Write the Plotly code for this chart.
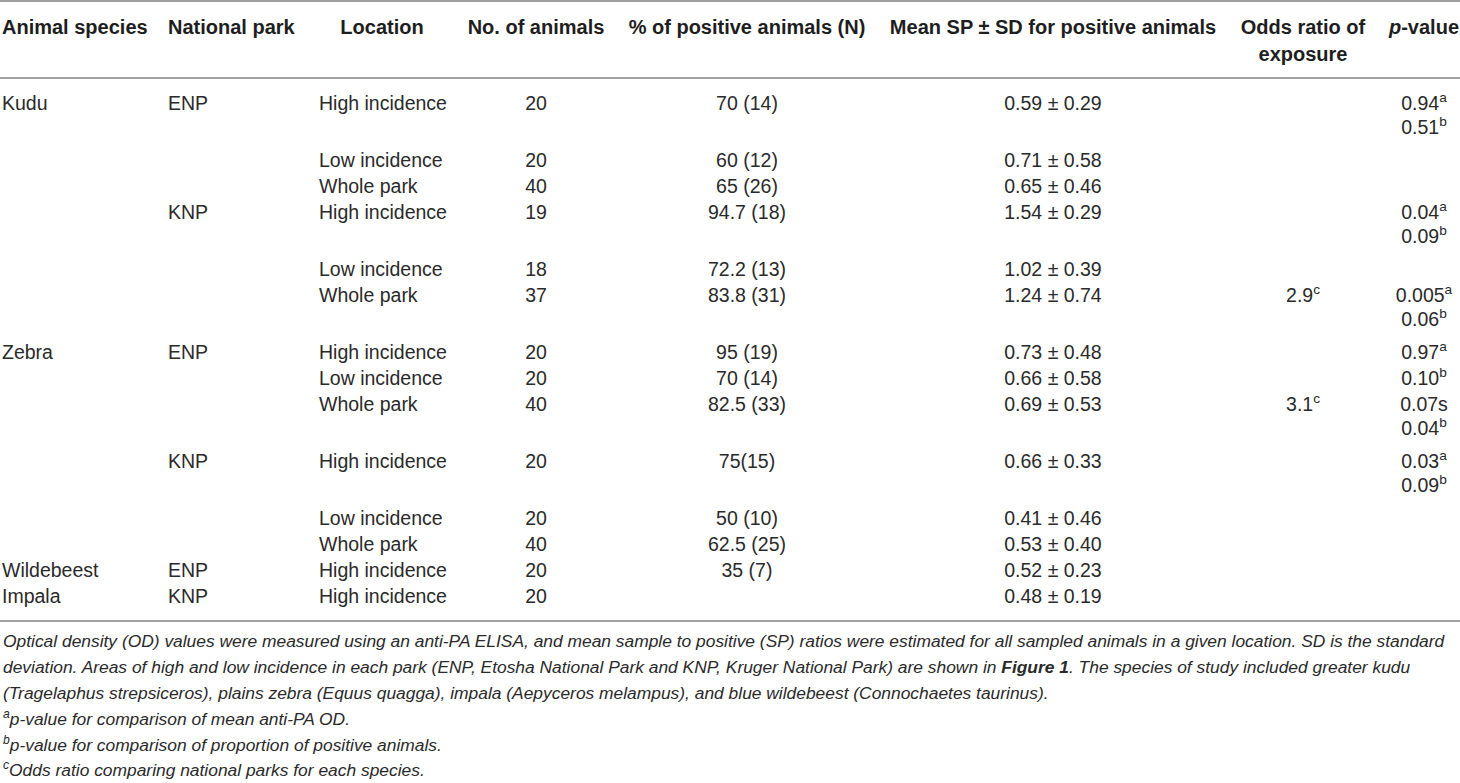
import plotly.graph_objects as go

# Table data (one entry per table row)
species = ["Kudu", "", "", "", "", "", "Zebra", "", "", "", "", "", "Wildebeest", "Impala"]
parks = ["ENP", "", "", "KNP", "", "", "ENP", "", "", "KNP", "", "", "ENP", "KNP"]
locations = ["High incidence", "Low incidence", "Whole park",
             "High incidence", "Low incidence", "Whole park",
             "High incidence", "Low incidence", "Whole park",
             "High incidence", "Low incidence", "Whole park",
             "High incidence", "High incidence"]
n_animals = [20, 20, 40, 19, 18, 37, 20, 20, 40, 20, 20, 40, 20, 20]
pct_positive = ["70 (14)", "60 (12)", "65 (26)", "94.7 (18)", "72.2 (13)", "83.8 (31)",
                "95 (19)", "70 (14)", "82.5 (33)", "75(15)", "50 (10)", "62.5 (25)",
                "35 (7)", ""]
mean_sp = [0.59, 0.71, 0.65, 1.54, 1.02, 1.24, 0.73, 0.66, 0.69, 0.66, 0.41, 0.53, 0.52, 0.48]
sd_sp = [0.29, 0.58, 0.46, 0.29, 0.39, 0.74, 0.48, 0.58, 0.53, 0.33, 0.46, 0.40, 0.23, 0.19]
odds_ratio = ["", "", "", "", "", "2.9<sup>c</sup>", "", "", "3.1<sup>c</sup>", "", "", "", "", ""]
p_values = [
    ["0.94<sup>a</sup>", "0.51<sup>b</sup>"], [], [],
    ["0.04<sup>a</sup>", "0.09<sup>b</sup>"], [], ["0.005<sup>a</sup>", "0.06<sup>b</sup>"],
    ["0.97<sup>a</sup>"], ["0.10<sup>b</sup>"], ["0.07s", "0.04<sup>b</sup>"],
    ["0.03<sup>a</sup>", "0.09<sup>b</sup>"], [], [], [], [],
]

headers = ["Animal species", "National park", "Location", "No. of animals",
           "% of positive animals (N)", "Mean SP \u00b1 SD for positive animals",
           "Odds ratio of", "<i>p</i>-value"]

caption = [
    "Optical density (OD) values were measured using an anti-PA ELISA, and mean sample to positive (SP) ratios were estimated for all sampled animals in a given location. SD is the standard",
    "deviation. Areas of high and low incidence in each park (ENP, Etosha National Park and KNP, Kruger National Park) are shown in <b>Figure 1</b>. The species of study included greater kudu",
    "(Tragelaphus strepsiceros), plains zebra (Equus quagga), impala (Aepyceros melampus), and blue wildebeest (Connochaetes taurinus).",
    "<sup>a</sup>p-value for comparison of mean anti-PA OD.",
    "<sup>b</sup>p-value for comparison of proportion of positive animals.",
    "<sup>c</sup>Odds ratio comparing national parks for each species.",
]

# layout (pixels)
W, H = 1460, 783
FONT = "Liberation Sans, Arial, sans-serif"
TXT = "#2a2a2a"
BODY = 19.5
# column anchor x and alignment
col_x = [2, 168, 319, 536, 747, 1053, 1303, 1424]
col_pos = ["middle right", "middle right", "middle right", "middle center",
           "middle center", "middle center", "middle center", "middle center"]
header_x = [2, 168, 382, 536, 747, 1053, 1303, 1424]
header_pos = ["middle right", "middle right", "middle center", "middle center",
              "middle center", "middle center", "middle center", "middle center"]

# row positions from number of text lines in each row
row_y = []
y = 105
for pv in p_values:
    row_y.append(y)
    y += 57 if len(pv) > 1 else 26

fig = go.Figure()


def add_col(xs, ys, texts, pos, bold=False):
    keep = [(a, b, t) for a, b, t in zip(xs, ys, texts) if t]
    fig.add_trace(go.Scatter(
        x=[k[0] for k in keep], y=[k[1] for k in keep], text=[k[2] for k in keep],
        mode="text", textposition=pos,
        textfont=dict(family=FONT, size=20 if bold else BODY,
                      color="#1e1e1e" if bold else TXT,
                      weight="bold" if bold else "normal"),
        hoverinfo="skip", showlegend=False, cliponaxis=False,
    ))


# header
for i, h in enumerate(headers):
    add_col([header_x[i]], [29], [h], header_pos[i], bold=True)
add_col([header_x[6]], [56], ["exposure"], header_pos[6], bold=True)

# body columns
mean_txt = [f"{m:.2f} \u00b1 {s:.2f}" for m, s in zip(mean_sp, sd_sp)]
body_cols = [species, parks, locations, [str(n) for n in n_animals],
             pct_positive, mean_txt, odds_ratio]
for i, col in enumerate(body_cols):
    add_col([col_x[i]] * len(col), row_y, col, col_pos[i])

# p-values, second line below the first
pv_y, pv_t = [], []
for ry, pv in zip(row_y, p_values):
    for k, t in enumerate(pv):
        pv_y.append(ry + 24 * k)
        pv_t.append(t)
add_col([col_x[7]] * len(pv_t), pv_y, pv_t, col_pos[7])

# horizontal rules
for ry in [1, 78, 621]:
    fig.add_shape(type="line", x0=0, x1=W, y0=ry, y1=ry, xref="x", yref="y",
                  line=dict(color="#a0a0a0", width=2))

# caption lines
cap_y = [641, 667, 693, 718, 744, 769]
for cy, line in zip(cap_y, caption):
    fig.add_annotation(x=1, y=cy, xref="x", yref="y", text=line, showarrow=False,
                       xanchor="left", yanchor="middle",
                       font=dict(family=FONT, size=17.4, color=TXT, style="italic"))

fig.update_layout(
    width=W, height=H,
    margin=dict(l=0, r=0, t=0, b=0),
    paper_bgcolor="white", plot_bgcolor="white",
    xaxis=dict(range=[0, W], visible=False, fixedrange=True),
    yaxis=dict(range=[H, 0], visible=False, fixedrange=True),
)

# page body has a default 8px margin; drop it so the figure fills the window
fig.write_html("out.html", config={"displayModeBar": False},
               post_script="document.body.style.margin='0';")
